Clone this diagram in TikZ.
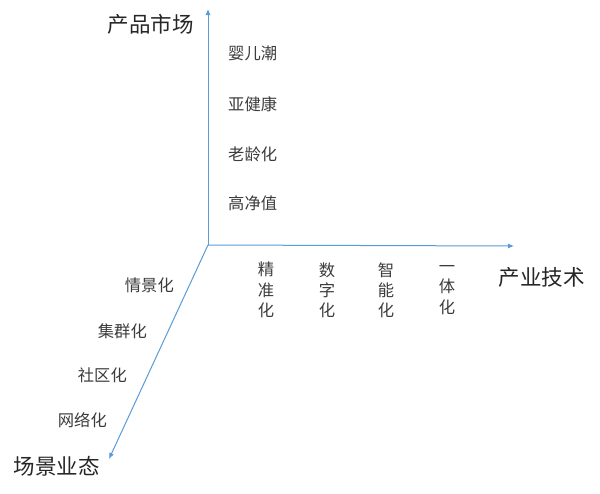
\documentclass[tikz,border=0pt]{standalone}
\usepackage{fontspec}
\newfontfamily\cjk{Noto Sans CJK SC}
\definecolor{AxisBlue}{RGB}{91, 155, 213}
\definecolor{TextGray}{RGB}{60, 60, 60}
\usepackage{tikz}
\usetikzlibrary{arrows.meta, positioning}

\begin{document}
\begin{tikzpicture}[x=1pt, y=-1pt,
    axis/.style={draw=AxisBlue, line width=1pt, -{Latex[length=6pt, width=5pt]}},
    title/.style={font=\cjk\fontsize{21.5}{26}\selectfont, text=black!85, inner sep=0pt},
    item/.style={font=\cjk\fontsize{16.3}{20.2}\selectfont, text=TextGray, inner sep=0pt},
    column/.style={item, align=center}]
            \useasboundingbox[fill=white] (0,0) rectangle (600,493);
            \coordinate (origin) at (208,245);
            \coordinate (market tip) at (208,9);
            \coordinate (tech tip) at (514,246);
            \coordinate (scene tip) at (109,459);
            \draw[axis] (origin) -- (market tip);
            \draw[axis] (origin) -- (tech tip);
            \draw[axis] (origin) -- (scene tip);
            \node[title] (market) at (150.5,24) {产品市场};
            \node[title] (tech) at (541.5,277) {产业技术};
            \node[title] (scene) at (56.5,466) {场景业态};
            \node[item, anchor=west] (boom) at (228,53) {婴儿潮};
            \node[item, anchor=west] (subhealth) at (228,104) {亚健康};
            \node[item, anchor=west] (aging) at (228,154) {老龄化};
            \node[item, anchor=west] (wealth) at (228,203) {高净值};
            \node[column] (precise) at (266,290) {精\\准\\化};
            \node[column] (digital) at (327,290) {数\\字\\化};
            \node[column] (smart) at (386,290) {智\\能\\化};
            \node[column] (integrated) at (447,290) {一\\体\\化};
            \node[item, anchor=east] (context) at (174,285) {情景化};
            \node[item, anchor=east] (cluster) at (147,331) {集群化};
            \node[item, anchor=east] (community) at (127,375) {社区化};
            \node[item, anchor=east] (network) at (107,420) {网络化};
        \end{tikzpicture}
\end{document}
